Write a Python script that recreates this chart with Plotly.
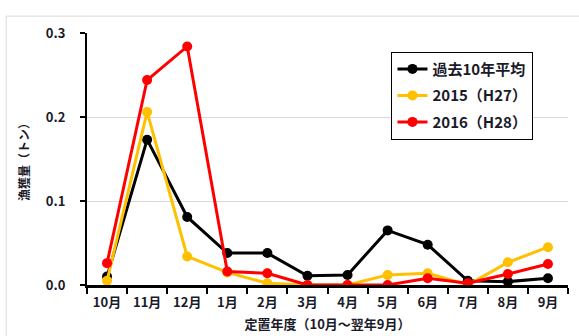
import plotly.graph_objects as go

months = ["10月", "11月", "12月", "1月", "2月", "3月", "4月", "5月", "6月", "7月", "8月", "9月"]
avg_10yr = [0.010, 0.173, 0.081, 0.038, 0.038, 0.011, 0.012, 0.065, 0.048, 0.005, 0.004, 0.008]
y2015 = [0.005, 0.206, 0.034, 0.015, 0.002, 0.000, 0.000, 0.012, 0.014, 0.000, 0.027, 0.045]
y2016 = [0.026, 0.244, 0.284, 0.016, 0.014, 0.000, 0.000, 0.000, 0.008, 0.002, 0.013, 0.025]
y_ticks = [0.0, 0.1, 0.2, 0.3]
y_tick_text = ["0.0", "0.1", "0.2", "0.3"]

FONT = "Noto Sans CJK JP"
TEXT = "#1a1a2a"

series = [
    ("過去10年平均", avg_10yr, "#000000"),
    ("2015（H27）", y2015, "#FFC000"),
    ("2016（H28）", y2016, "#FF0000"),
]

fig = go.Figure()
for i, (name, vals, color) in enumerate(series):
    fig.add_trace(go.Scatter(
        x=months, y=vals, name=name, mode="lines+markers",
        legendgroup=f"g{i}",
        line=dict(color=color, width=3),
        marker=dict(color=color, size=10),
    ))

# light frame around the whole chart
fig.add_shape(type="rect", xref="paper", yref="paper",
              x0=-0.168, x1=1.04, y0=-0.3, y1=1.067,
              line=dict(color="#d9d9d9", width=1), layer="below")

fig.update_layout(
    width=579, height=336,
    margin=dict(l=87, r=11, t=33, b=51),
    paper_bgcolor="white", plot_bgcolor="white",
    font=dict(family=FONT, color=TEXT, size=12),
    showlegend=True,
    legend=dict(
        x=0.633, y=0.926, xanchor="left", yanchor="top",
        bgcolor="white", bordercolor="#000000", borderwidth=1,
        font=dict(family=FONT, size=15, color=TEXT, weight="bold"),
        tracegroupgap=4, itemwidth=30,
    ),
    xaxis=dict(
        type="category", range=[-0.5, 11.5], automargin=False,
        showline=True, linecolor="#000000", linewidth=2.5,
        ticks="outside", tickson="boundaries", ticklen=6, tickwidth=2, tickcolor="#000000",
        showgrid=False, zeroline=False, ticklabelstandoff=4,
        tickfont=dict(family=FONT, size=13, color=TEXT, weight="bold"),
        title=dict(text="定置年度（10月～翌年9月）", standoff=10,
                   font=dict(family=FONT, size=13, color=TEXT, weight="bold")),
    ),
    yaxis=dict(
        range=[0, 0.3], tickvals=y_ticks, ticktext=y_tick_text, automargin=False,
        showline=True, linecolor="#000000", linewidth=2,
        ticks="outside", ticklen=5, tickwidth=2, tickcolor="#000000",
        showgrid=True, gridcolor="#d9d9d9", gridwidth=1, zeroline=False,
        ticklabelstandoff=12,
        tickfont=dict(family=FONT, size=13, color=TEXT, weight="bold"),
        title=dict(text="漁獲量（トン）", standoff=14,
                   font=dict(family=FONT, size=12, color=TEXT, weight="bold")),
    ),
)

fig.write_html("out.html")
